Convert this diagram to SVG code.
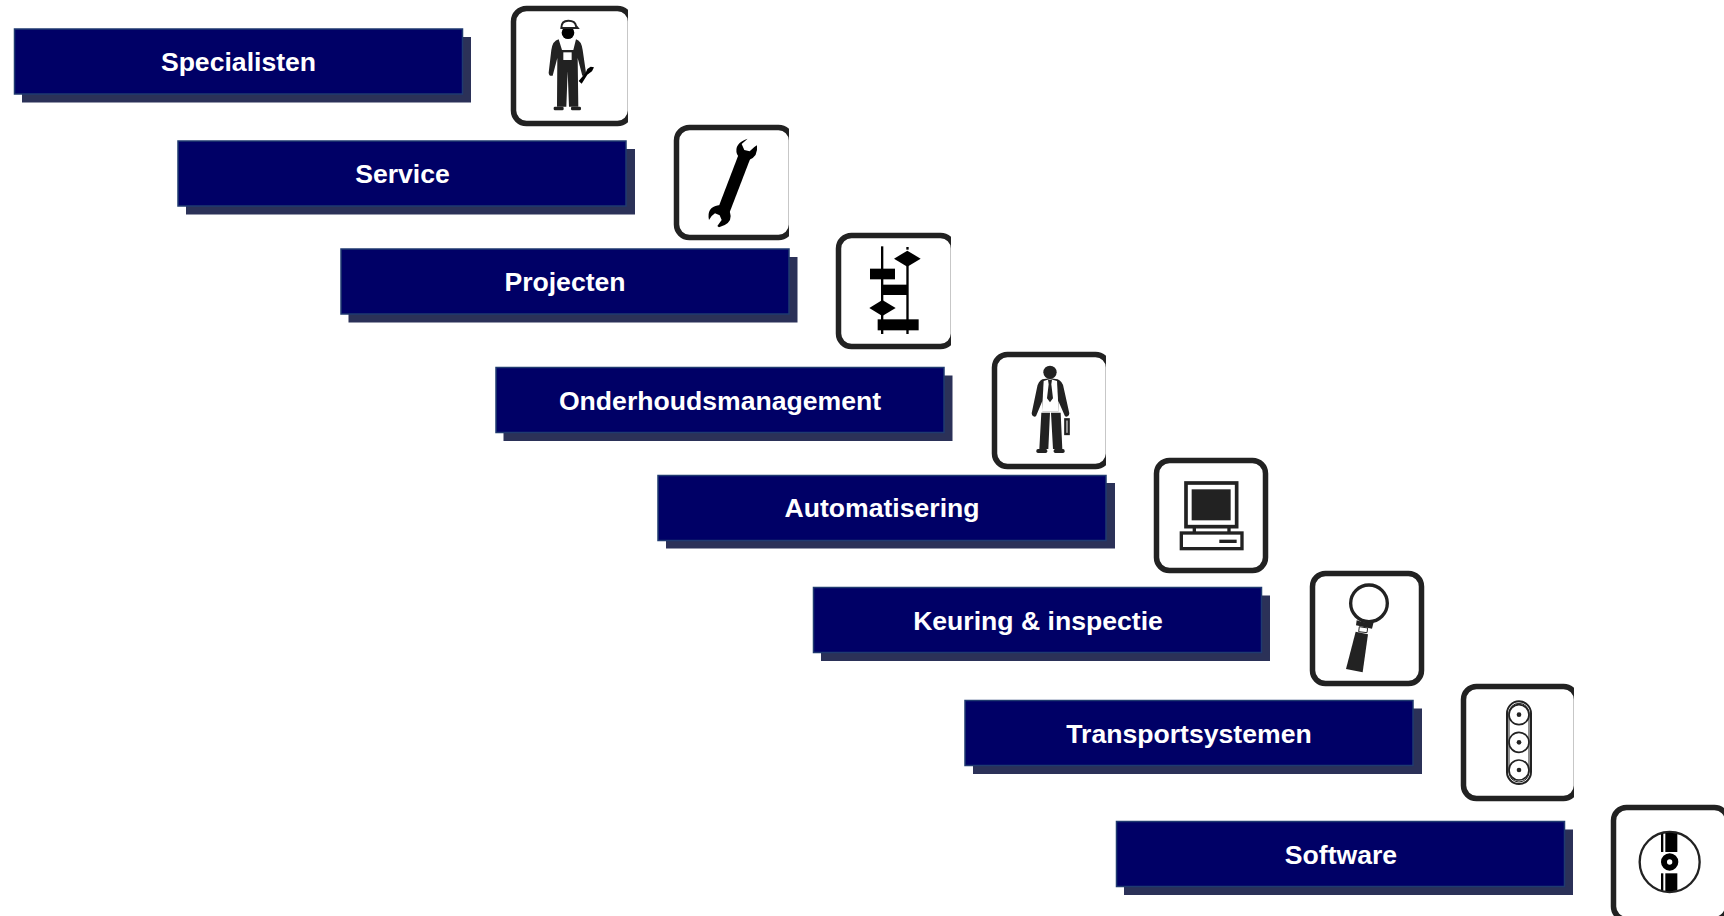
<svg xmlns="http://www.w3.org/2000/svg" width="1724" height="916" viewBox="0 0 1724 916">
<style>
.shadow{fill:#2b3158}
.bar{fill:#000066;stroke:#1f3a70;stroke-width:1.500}
.label{font-family:"Liberation Sans",Arial,sans-serif;font-weight:700;font-size:26.6px;fill:#fff;text-anchor:middle}
.frame{fill:#fff;stroke:#222;stroke-width:5.500}
.d{fill:#222}
.k{fill:#000}
.w{fill:#fff}
.ol{fill:#fff;stroke:#222}
.ln{fill:none;stroke:#222}
</style>
<defs>
<clipPath id="c1"><rect x="505" y="0" width="123" height="130"/></clipPath>
<clipPath id="c2"><rect x="668" y="120" width="121" height="125"/></clipPath>
<clipPath id="c3"><rect x="830" y="228" width="121" height="125"/></clipPath>
<clipPath id="c4"><rect x="986" y="346" width="120" height="128"/></clipPath>
<clipPath id="c7"><rect x="1455" y="678" width="119" height="128"/></clipPath>
<clipPath id="cd"><circle cx="197" cy="198" r="88"/></clipPath>
</defs>
<rect width="1724" height="916" fill="#fff"/>
<g id="connectors"/>
<g id="specialisten">
<rect class="shadow" x="22" y="37" width="449" height="65.500"/><rect class="bar" x="14.500" y="29" width="448" height="65"/>
<text class="label" x="238.500" y="71">Specialisten</text>
<g clip-path="url(#c1)"><rect class="frame" x="513.500" y="8.500" width="117" height="115" rx="13"/></g>
<g transform="translate(500,0) scale(.3333)">
<path class="d" d="M176 118Q158 122 154 150L146 218Q147 230 158 227L172 174L171 320H199L203 214L207 320H235L233 174L247 227Q256 230 258 218L248 150Q244 122 228 118L220 150H186Z"/>
<path class="w" d="M187 122H193V150H187ZM213 122H219V150H213Z"/>
<rect class="w" x="190" y="157" width="25" height="23"/>
<circle class="k" cx="204" cy="98" r="19"/>
<path class="ol" stroke-width="6" d="M184 84Q184 62 205 62Q226 62 228 78L233 84Z"/>
<rect class="d" x="161" y="320" width="30" height="11" rx="4"/><rect class="d" x="213" y="320" width="30" height="11" rx="4"/>
<path class="k" d="M236 243L245 251L262 224L276 214L282 202L272 200L262 207L257 218Z"/>
</g>
</g>
<g id="service">
<rect class="shadow" x="186" y="149" width="449" height="65.500"/><rect class="bar" x="178" y="141" width="448" height="65"/>
<text class="label" x="402.500" y="183">Service</text>
<g clip-path="url(#c2)"><rect class="frame" x="676.500" y="127.500" width="115" height="110" rx="13"/></g>
<g transform="translate(665,120) scale(.3333)">
<path class="k" d="M224 95L258 110L192 282L158 268Z"/>
<path class="k" d="M248 56L230 72L238 90L254 94L268 81L276 76Q280 110 252 120Q226 126 216 102Q206 70 248 56Z"/>
<path class="k" d="M132 300Q124 262 160 256Q194 256 197 288Q198 312 162 322L157 318L170 300L164 286L150 280L140 288Z"/>
</g>
</g>
<g id="projecten">
<rect class="shadow" x="348.500" y="257" width="449" height="65.500"/><rect class="bar" x="341" y="249" width="448" height="65"/>
<text class="label" x="565" y="291">Projecten</text>
<g clip-path="url(#c3)"><rect class="frame" x="838.500" y="235.500" width="115" height="111" rx="13"/></g>
<g transform="translate(830,228) scale(.3333)">
<rect class="k" x="153" y="55" width="7" height="263"/><rect class="k" x="229" y="57" width="7" height="8"/><rect class="k" x="229" y="100" width="7" height="218"/>
<path class="k" d="M192 92L232 68L272 92L232 116Z"/><rect class="k" x="120" y="122" width="75" height="32"/>
<rect class="k" x="156" y="170" width="76" height="31"/><path class="k" d="M118 240L157 216L197 240L157 264Z"/>
<rect class="k" x="143" y="274" width="123" height="33"/>
</g>
</g>
<g id="onderhoudsmanagement">
<rect class="shadow" x="503.500" y="375.500" width="449" height="65.500"/><rect class="bar" x="496" y="367.500" width="448" height="65"/>
<text class="label" x="720" y="410">Onderhoudsmanagement</text>
<g clip-path="url(#c4)"><rect class="frame" x="994.500" y="354.500" width="114" height="112" rx="13"/></g>
<g transform="translate(985,345) scale(.3333)">
<circle class="d" cx="195" cy="82" r="20"/>
<path class="d" d="M172 103Q160 108 156 128L140 205Q142 218 153 214L172 168L172 200H220L220 168L240 214Q251 218 253 205L236 128Q232 108 218 103L195 100Z"/>
<path class="w" d="M176 108L171 200H221L216 108L195 102Z"/>
<path class="d" d="M189 104H201L199 118L204 160L195 172L186 160L191 118Z"/>
<path class="d" d="M169 203H195L190 312H163ZM198 203H227L232 312H204Z"/>
<rect class="d" x="154" y="312" width="33" height="12" rx="5"/><rect class="d" x="206" y="312" width="33" height="12" rx="5"/>
<rect class="ol" stroke-width="7" x="241" y="223" width="10" height="44"/>
</g>
</g>
<g id="automatisering">
<rect class="shadow" x="666" y="483" width="449" height="65.500"/><rect class="bar" x="658" y="475.500" width="448" height="65"/>
<text class="label" x="882" y="517">Automatisering</text>
<rect class="frame" x="1156.500" y="460.500" width="109" height="110" rx="13"/>
<g transform="translate(1140,452) scale(.3333)">
<rect class="ol" stroke-width="11" x="138" y="93" width="152" height="131"/>
<rect class="d" x="155" y="112" width="117" height="93"/>
<rect class="d" x="158" y="228" width="10" height="14"/><rect class="d" x="262" y="228" width="10" height="14"/>
<rect class="ol" stroke-width="10" x="124" y="243" width="182" height="47"/>
<rect class="d" x="238" y="263" width="52" height="10"/>
</g>
</g>
<g id="keuring">
<rect class="shadow" x="821" y="595.500" width="449" height="65.500"/><rect class="bar" x="813.500" y="587.500" width="448" height="65"/>
<text class="label" x="1038" y="630">Keuring &amp; inspectie</text>
<rect class="frame" x="1312.500" y="573.500" width="109" height="110" rx="13"/>
<g transform="translate(1295,565) scale(.3333)">
<circle class="ol" stroke-width="10" cx="222" cy="115" r="55"/>
<path class="d" d="M185 166Q210 176 236 172L231 191L183 181Z"/>
<path class="ol" stroke-width="3" d="M193 185L218 189L216 203L191 200Z"/>
<path class="d" d="M182 200L219 208L203 322L153 312Z"/>
</g>
</g>
<g id="transportsystemen">
<rect class="shadow" x="973" y="708.500" width="449" height="65.500"/><rect class="bar" x="965" y="700.500" width="448" height="65"/>
<text class="label" x="1189" y="743">Transportsystemen</text>
<g clip-path="url(#c7)"><rect class="frame" x="1463.500" y="686.500" width="113" height="112" rx="13"/></g>
<g transform="translate(1450,678) scale(.3333)">
<rect class="ln" stroke-width="6" x="171" y="70" width="72" height="248" rx="36"/>
<rect class="ln" stroke-width="3" x="177" y="76" width="60" height="236" rx="30"/>
<circle class="ln" stroke-width="5" cx="207" cy="110" r="30"/><circle class="ln" stroke-width="5" cx="207" cy="193" r="30"/><circle class="ln" stroke-width="5" cx="207" cy="276" r="30"/>
<circle class="d" cx="207" cy="110" r="7"/><circle class="d" cx="207" cy="193" r="7"/><circle class="d" cx="207" cy="276" r="7"/>
</g>
</g>
<g id="software">
<rect class="shadow" x="1124" y="829.500" width="449" height="65.500"/><rect class="bar" x="1116.500" y="821.500" width="448" height="65"/>
<text class="label" x="1341" y="864">Software</text>
<rect class="frame" x="1613.500" y="807.500" width="114" height="112" rx="13"/>
<g transform="translate(1604,796) scale(.3333)">
<circle class="ol" stroke="#000" stroke-width="7" cx="197" cy="198" r="90"/>
<g clip-path="url(#cd)">
<rect class="k" x="171" y="105" width="7" height="63"/><rect class="k" x="184" y="105" width="36" height="63"/>
<rect class="k" x="171" y="232" width="7" height="63"/><rect class="k" x="184" y="232" width="36" height="63"/>
</g>
<circle fill="none" stroke="#000" stroke-width="18" cx="197" cy="198" r="17"/>
</g>
</g>
</svg>
